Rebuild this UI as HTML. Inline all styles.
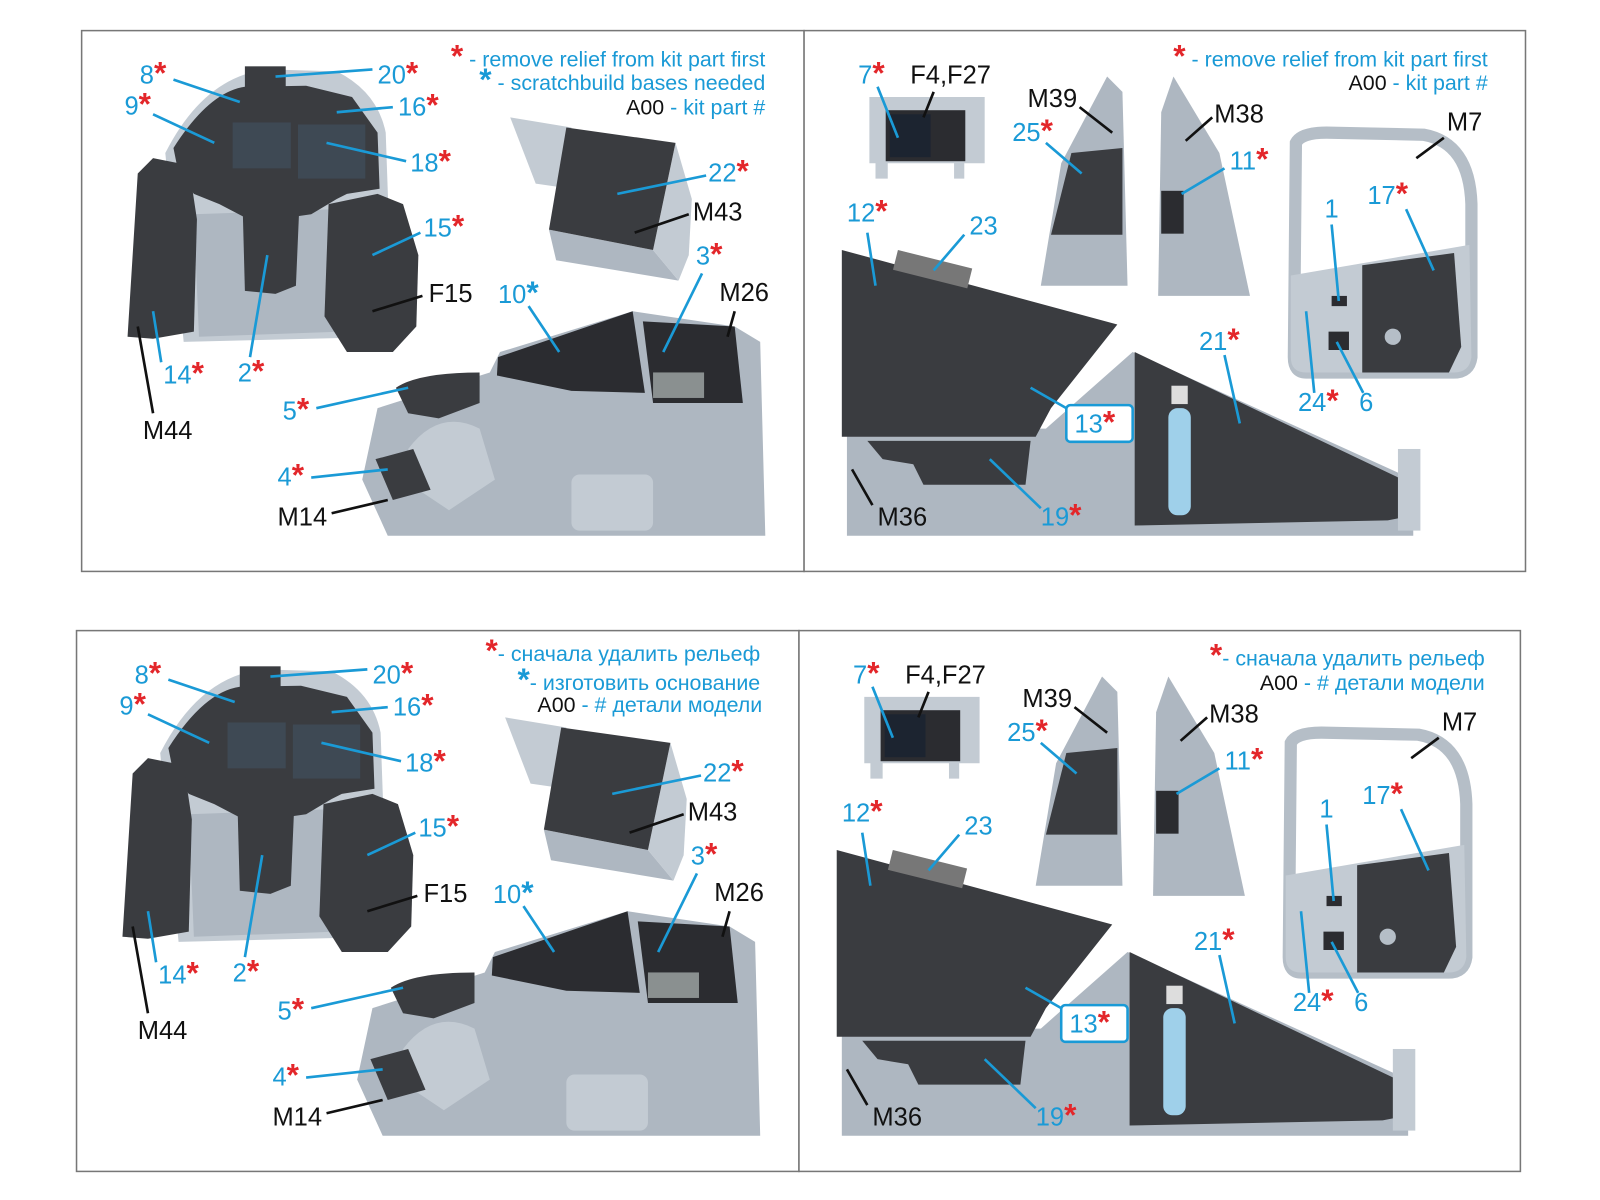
<!DOCTYPE html>
<html><head><meta charset="utf-8"><style>
html,body{margin:0;padding:0;background:#fff;width:1600px;height:1200px;overflow:hidden}
svg text{font-family:"Liberation Sans","DejaVu Sans",sans-serif;font-size:25px}
svg tspan{font-size:31px;font-weight:bold}
svg tspan.k{font-size:21px;font-weight:normal}
.c{fill:#1a9ad6}.k{fill:#111}.r{fill:#e3262a}
.lc{stroke:#1a9ad6;stroke-width:2.6;fill:none}.lk{stroke:#111;stroke-width:2.6;fill:none}
.g{fill:#aeb7c1}.g2{fill:#c3cbd3}.d{fill:#3a3c40}.d2{fill:#2b2c30}.s{fill:#3e4954}
</style></head><body>
<svg width="1600" height="1200" viewBox="0 0 1600 1200" xmlns="http://www.w3.org/2000/svg">
<g transform="scale(1.0204)">
<g id="top">
<rect x="80" y="30" width="708" height="530" fill="#fff" stroke="#777" stroke-width="1.5"/>
<rect x="788" y="30" width="707" height="530" fill="#fff" stroke="#777" stroke-width="1.5"/>
<path class="g2" d="M162,150 Q200,75 262,68 L330,70 Q370,90 378,130 L385,330 L180,335 Z"/>
<path class="g" d="M190,210 L330,205 L335,325 L195,330 Z"/>
<path class="d" d="M170,145 Q205,90 240,85 L300,84 L345,95 L370,130 L372,185 L340,190 L330,195 L305,210 L270,215 L238,212 L215,200 L190,190 L175,170 Z"/>
<rect class="d" x="240" y="65" width="40" height="25"/>
<rect class="s" x="228" y="120" width="57" height="45"/>
<rect class="s" x="292" y="122" width="66" height="53"/>
<path class="d" d="M125,330 L135,170 L150,155 L185,162 L193,215 L190,325 L150,332 Z"/>
<path class="d" d="M238,210 L293,210 L290,280 L270,288 L240,285 Z"/>
<path class="d" d="M322,200 L370,190 L395,200 L410,250 L408,320 L385,345 L340,345 L318,310 Z"/>
<path class="g2" d="M500,115 L560,125 L560,185 L525,180 Z"/>
<path class="g" d="M538,225 L640,245 L665,275 L545,255 Z"/>
<path class="g2" d="M640,245 L662,140 L678,195 L675,250 L665,275 Z"/>
<path class="d" d="M555,125 L662,140 L640,245 L538,225 Z"/>
<path class="g" d="M370,400 L480,365 L490,345 L620,305 L720,320 L745,335 L750,525 L380,525 L355,470 Z"/>
<path class="g2" d="M400,440 Q430,400 470,420 L485,470 L440,500 L410,480 Z"/>
<rect class="g2" x="560" y="465" width="80" height="55" rx="8"/>
<path class="d2" d="M487,368 L488,350 L620,305 L632,385 L560,383 Z"/>
<path class="d2" d="M630,315 L720,320 L728,395 L640,395 Z"/>
<rect x="640" y="365" width="50" height="25" fill="#8a9090"/>
<path class="d" d="M388,380 Q410,365 470,365 L470,395 L430,410 L400,405 Z"/>
<path class="d" d="M368,450 L405,440 L422,480 L385,490 Z"/>
<path class="lc" d="M170,78 L235,100 M365,68 L270,75 M150,112 L210,140 M385,105 L330,110 M398,158 L320,140 M412,228 L365,250 M158,355 L150,305 M245,350 L262,250 M310,400 L400,380 M305,468 L380,460 M518,300 L548,345 M688,268 L650,345 M692,172 L605,190"/>
<path class="lk" d="M414,290 L365,305 M150,405 L135,320 M325,503 L380,490 M720,305 L713,330 M675,210 L622,228"/>
<text x="137" y="82" class="c">8<tspan class="r">*</tspan></text>
<text x="370" y="82" class="c">20<tspan class="r">*</tspan></text>
<text x="122" y="112" class="c">9<tspan class="r">*</tspan></text>
<text x="390" y="113" class="c">16<tspan class="r">*</tspan></text>
<text x="402" y="168" class="c">18<tspan class="r">*</tspan></text>
<text x="415" y="232" class="c">15<tspan class="r">*</tspan></text>
<text x="420" y="296" class="k">F15</text>
<text x="160" y="376" class="c">14<tspan class="r">*</tspan></text>
<text x="233" y="374" class="c">2<tspan class="r">*</tspan></text>
<text x="140" y="430" class="k">M44</text>
<text x="277" y="411" class="c">5<tspan class="r">*</tspan></text>
<text x="272" y="476" class="c">4<tspan class="r">*</tspan></text>
<text x="272" y="515" class="k">M14</text>
<text x="488" y="297" class="c">10<tspan>*</tspan></text>
<text x="682" y="259" class="c">3<tspan class="r">*</tspan></text>
<text x="705" y="295" class="k">M26</text>
<text x="694" y="178" class="c">22<tspan class="r">*</tspan></text>
<text x="679" y="216" class="k">M43</text>
<text x="750" y="65" text-anchor="end" class="c" style="font-size:21px"><tspan class="r">*</tspan> - remove relief from kit part first</text>
<text x="750" y="88" text-anchor="end" class="c" style="font-size:21px"><tspan>*</tspan> - scratchbuild bases needed</text>
<text x="750" y="112" text-anchor="end" class="c" style="font-size:21px"><tspan class="k">A00</tspan> - kit part #</text>
<path class="g2" d="M852,95 L965,95 L965,160 L945,160 L945,175 L935,175 L935,160 L870,160 L870,175 L858,175 L858,160 L852,160 Z"/>
<rect class="d2" x="868" y="108" width="78" height="50"/>
<rect x="872" y="112" width="40" height="42" fill="#1c2430"/>
<path class="g" d="M1020,280 L1040,160 L1085,75 L1100,90 L1105,280 Z"/>
<path class="d" d="M1030,230 L1050,150 L1100,145 L1100,230 Z"/>
<path class="g" d="M1135,290 L1138,110 L1150,75 L1195,150 L1225,290 Z"/>
<rect class="d2" x="1138" y="187" width="22" height="42"/>
<path fill="none" stroke="#b5bec7" stroke-width="12" d="M1270,140 Q1275,130 1300,130 L1395,132 Q1440,140 1442,200 L1442,350 Q1440,365 1425,365 L1280,365 Q1268,365 1268,350 Z"/>
<path class="g2" d="M1265,270 L1440,240 L1442,350 Q1440,365 1425,365 L1280,365 Q1265,365 1265,350 Z"/>
<path class="d" d="M1335,260 L1425,248 L1432,340 L1420,365 L1335,365 Z"/>
<circle cx="1365" cy="330" r="8" fill="#b5bec7"/>
<rect class="d2" x="1305" y="290" width="15" height="10"/>
<rect class="d2" x="1302" y="325" width="20" height="18"/>
<path class="g" d="M830,420 L1025,420 L1110,345 L1385,470 L1385,525 L830,525 Z"/>
<path class="d" d="M825,245 L1095,318 L1030,400 L1015,428 L825,428 Z"/>
<path class="d" d="M850,432 L1010,432 L1005,475 L905,475 L895,455 L865,450 Z"/>
<path class="d" d="M1112,345 L1385,475 L1385,505 L1360,510 L1112,515 Z"/>
<rect class="g2" x="1370" y="440" width="22" height="80"/>
<rect x="1145" y="400" width="22" height="105" rx="9" fill="#9fd0ea"/>
<rect x="1148" y="378" width="16" height="18" fill="#ddd"/>
<rect x="880" y="245" width="75" height="20" fill="#777" transform="rotate(14 880 245)"/>
<rect x="1045" y="397" width="65" height="36" rx="4" fill="#fff" stroke="#1a9ad6" stroke-width="2.5"/>
<path class="lc" d="M860,85 L880,135 M1025,140 L1060,170 M1200,165 L1158,190 M850,228 L858,280 M945,230 L915,265 M1305,220 L1312,295 M1378,205 L1405,265 M1200,348 L1215,415 M1045,400 L1010,380 M1288,385 L1280,305 M1336,385 L1310,335 M1020,498 L970,450"/>
<path class="lk" d="M915,90 L905,115 M1058,105 L1090,130 M1188,115 L1162,138 M1415,135 L1388,155 M855,495 L835,460"/>
<text x="841" y="82" class="c">7<tspan class="r">*</tspan></text>
<text x="892" y="82" class="k">F4,F27</text>
<text x="1007" y="105" class="k">M39</text>
<text x="992" y="138" class="c">25<tspan class="r">*</tspan></text>
<text x="1190" y="120" class="k">M38</text>
<text x="1205" y="166" class="c">11<tspan class="r">*</tspan></text>
<text x="1418" y="128" class="k">M7</text>
<text x="830" y="217" class="c">12<tspan class="r">*</tspan></text>
<text x="950" y="230" class="c">23</text>
<text x="1298" y="213" class="c">1</text>
<text x="1340" y="200" class="c">17<tspan class="r">*</tspan></text>
<text x="1175" y="343" class="c">21<tspan class="r">*</tspan></text>
<text x="1053" y="424" class="c">13<tspan class="r">*</tspan></text>
<text x="1272" y="403" class="c">24<tspan class="r">*</tspan></text>
<text x="1332" y="403" class="c">6</text>
<text x="860" y="515" class="k">M36</text>
<text x="1020" y="515" class="c">19<tspan class="r">*</tspan></text>
<text x="1458" y="65" text-anchor="end" class="c" style="font-size:21px"><tspan class="r">*</tspan> - remove relief from kit part first</text>
<text x="1458" y="88" text-anchor="end" class="c" style="font-size:21px"><tspan class="k">A00</tspan> - kit part #</text>
</g>
<g transform="translate(-5,588)">
<rect x="80" y="30" width="708" height="530" fill="#fff" stroke="#777" stroke-width="1.5"/>
<rect x="788" y="30" width="707" height="530" fill="#fff" stroke="#777" stroke-width="1.5"/>
<path class="g2" d="M162,150 Q200,75 262,68 L330,70 Q370,90 378,130 L385,330 L180,335 Z"/>
<path class="g" d="M190,210 L330,205 L335,325 L195,330 Z"/>
<path class="d" d="M170,145 Q205,90 240,85 L300,84 L345,95 L370,130 L372,185 L340,190 L330,195 L305,210 L270,215 L238,212 L215,200 L190,190 L175,170 Z"/>
<rect class="d" x="240" y="65" width="40" height="25"/>
<rect class="s" x="228" y="120" width="57" height="45"/>
<rect class="s" x="292" y="122" width="66" height="53"/>
<path class="d" d="M125,330 L135,170 L150,155 L185,162 L193,215 L190,325 L150,332 Z"/>
<path class="d" d="M238,210 L293,210 L290,280 L270,288 L240,285 Z"/>
<path class="d" d="M322,200 L370,190 L395,200 L410,250 L408,320 L385,345 L340,345 L318,310 Z"/>
<path class="g2" d="M500,115 L560,125 L560,185 L525,180 Z"/>
<path class="g" d="M538,225 L640,245 L665,275 L545,255 Z"/>
<path class="g2" d="M640,245 L662,140 L678,195 L675,250 L665,275 Z"/>
<path class="d" d="M555,125 L662,140 L640,245 L538,225 Z"/>
<path class="g" d="M370,400 L480,365 L490,345 L620,305 L720,320 L745,335 L750,525 L380,525 L355,470 Z"/>
<path class="g2" d="M400,440 Q430,400 470,420 L485,470 L440,500 L410,480 Z"/>
<rect class="g2" x="560" y="465" width="80" height="55" rx="8"/>
<path class="d2" d="M487,368 L488,350 L620,305 L632,385 L560,383 Z"/>
<path class="d2" d="M630,315 L720,320 L728,395 L640,395 Z"/>
<rect x="640" y="365" width="50" height="25" fill="#8a9090"/>
<path class="d" d="M388,380 Q410,365 470,365 L470,395 L430,410 L400,405 Z"/>
<path class="d" d="M368,450 L405,440 L422,480 L385,490 Z"/>
<path class="lc" d="M170,78 L235,100 M365,68 L270,75 M150,112 L210,140 M385,105 L330,110 M398,158 L320,140 M412,228 L365,250 M158,355 L150,305 M245,350 L262,250 M310,400 L400,380 M305,468 L380,460 M518,300 L548,345 M688,268 L650,345 M692,172 L605,190"/>
<path class="lk" d="M414,290 L365,305 M150,405 L135,320 M325,503 L380,490 M720,305 L713,330 M675,210 L622,228"/>
<text x="137" y="82" class="c">8<tspan class="r">*</tspan></text>
<text x="370" y="82" class="c">20<tspan class="r">*</tspan></text>
<text x="122" y="112" class="c">9<tspan class="r">*</tspan></text>
<text x="390" y="113" class="c">16<tspan class="r">*</tspan></text>
<text x="402" y="168" class="c">18<tspan class="r">*</tspan></text>
<text x="415" y="232" class="c">15<tspan class="r">*</tspan></text>
<text x="420" y="296" class="k">F15</text>
<text x="160" y="376" class="c">14<tspan class="r">*</tspan></text>
<text x="233" y="374" class="c">2<tspan class="r">*</tspan></text>
<text x="140" y="430" class="k">M44</text>
<text x="277" y="411" class="c">5<tspan class="r">*</tspan></text>
<text x="272" y="476" class="c">4<tspan class="r">*</tspan></text>
<text x="272" y="515" class="k">M14</text>
<text x="488" y="297" class="c">10<tspan>*</tspan></text>
<text x="682" y="259" class="c">3<tspan class="r">*</tspan></text>
<text x="705" y="295" class="k">M26</text>
<text x="694" y="178" class="c">22<tspan class="r">*</tspan></text>
<text x="679" y="216" class="k">M43</text>
<text x="750" y="60" text-anchor="end" class="c" style="font-size:21px"><tspan class="r">*</tspan>- сначала удалить рельеф</text>
<text x="750" y="88" text-anchor="end" class="c" style="font-size:21px"><tspan>*</tspan>- изготовить основание</text>
<text x="752" y="110" text-anchor="end" class="c" style="font-size:21px"><tspan class="k">A00</tspan> - # детали модели</text>
<path class="g2" d="M852,95 L965,95 L965,160 L945,160 L945,175 L935,175 L935,160 L870,160 L870,175 L858,175 L858,160 L852,160 Z"/>
<rect class="d2" x="868" y="108" width="78" height="50"/>
<rect x="872" y="112" width="40" height="42" fill="#1c2430"/>
<path class="g" d="M1020,280 L1040,160 L1085,75 L1100,90 L1105,280 Z"/>
<path class="d" d="M1030,230 L1050,150 L1100,145 L1100,230 Z"/>
<path class="g" d="M1135,290 L1138,110 L1150,75 L1195,150 L1225,290 Z"/>
<rect class="d2" x="1138" y="187" width="22" height="42"/>
<path fill="none" stroke="#b5bec7" stroke-width="12" d="M1270,140 Q1275,130 1300,130 L1395,132 Q1440,140 1442,200 L1442,350 Q1440,365 1425,365 L1280,365 Q1268,365 1268,350 Z"/>
<path class="g2" d="M1265,270 L1440,240 L1442,350 Q1440,365 1425,365 L1280,365 Q1265,365 1265,350 Z"/>
<path class="d" d="M1335,260 L1425,248 L1432,340 L1420,365 L1335,365 Z"/>
<circle cx="1365" cy="330" r="8" fill="#b5bec7"/>
<rect class="d2" x="1305" y="290" width="15" height="10"/>
<rect class="d2" x="1302" y="325" width="20" height="18"/>
<path class="g" d="M830,420 L1025,420 L1110,345 L1385,470 L1385,525 L830,525 Z"/>
<path class="d" d="M825,245 L1095,318 L1030,400 L1015,428 L825,428 Z"/>
<path class="d" d="M850,432 L1010,432 L1005,475 L905,475 L895,455 L865,450 Z"/>
<path class="d" d="M1112,345 L1385,475 L1385,505 L1360,510 L1112,515 Z"/>
<rect class="g2" x="1370" y="440" width="22" height="80"/>
<rect x="1145" y="400" width="22" height="105" rx="9" fill="#9fd0ea"/>
<rect x="1148" y="378" width="16" height="18" fill="#ddd"/>
<rect x="880" y="245" width="75" height="20" fill="#777" transform="rotate(14 880 245)"/>
<rect x="1045" y="397" width="65" height="36" rx="4" fill="#fff" stroke="#1a9ad6" stroke-width="2.5"/>
<path class="lc" d="M860,85 L880,135 M1025,140 L1060,170 M1200,165 L1158,190 M850,228 L858,280 M945,230 L915,265 M1305,220 L1312,295 M1378,205 L1405,265 M1200,348 L1215,415 M1045,400 L1010,380 M1288,385 L1280,305 M1336,385 L1310,335 M1020,498 L970,450"/>
<path class="lk" d="M915,90 L905,115 M1058,105 L1090,130 M1188,115 L1162,138 M1415,135 L1388,155 M855,495 L835,460"/>
<text x="841" y="82" class="c">7<tspan class="r">*</tspan></text>
<text x="892" y="82" class="k">F4,F27</text>
<text x="1007" y="105" class="k">M39</text>
<text x="992" y="138" class="c">25<tspan class="r">*</tspan></text>
<text x="1190" y="120" class="k">M38</text>
<text x="1205" y="166" class="c">11<tspan class="r">*</tspan></text>
<text x="1418" y="128" class="k">M7</text>
<text x="830" y="217" class="c">12<tspan class="r">*</tspan></text>
<text x="950" y="230" class="c">23</text>
<text x="1298" y="213" class="c">1</text>
<text x="1340" y="200" class="c">17<tspan class="r">*</tspan></text>
<text x="1175" y="343" class="c">21<tspan class="r">*</tspan></text>
<text x="1053" y="424" class="c">13<tspan class="r">*</tspan></text>
<text x="1272" y="403" class="c">24<tspan class="r">*</tspan></text>
<text x="1332" y="403" class="c">6</text>
<text x="860" y="515" class="k">M36</text>
<text x="1020" y="515" class="c">19<tspan class="r">*</tspan></text>
<text x="1460" y="64" text-anchor="end" class="c" style="font-size:21px"><tspan class="r">*</tspan>- сначала удалить рельеф</text>
<text x="1460" y="88" text-anchor="end" class="c" style="font-size:21px"><tspan class="k">A00</tspan> - # детали модели</text>
</g>
</g>
</svg>
</body></html>
